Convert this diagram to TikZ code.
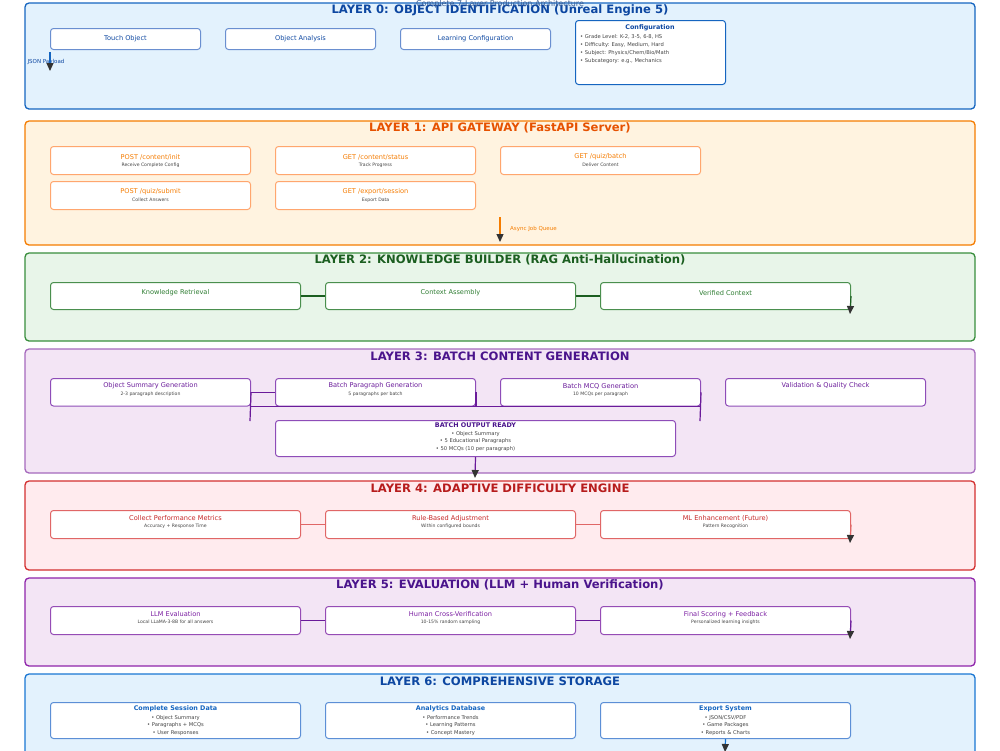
\documentclass[tikz,border=0pt]{standalone}
\usepackage{fontspec}
\setmainfont{DejaVu Sans}
\usetikzlibrary{arrows.meta,calc}
\definecolor{bFill}{HTML}{E3F2FD}\definecolor{bLine}{HTML}{1565C0}\definecolor{bTitle}{HTML}{0D47A1}\definecolor{bBox}{HTML}{6A8FD0}
\definecolor{oFill}{HTML}{FFF3E0}\definecolor{oLine}{HTML}{F57C00}\definecolor{oTitle}{HTML}{E65100}\definecolor{oBox}{HTML}{FFA66E}\definecolor{oText}{HTML}{F57C00}
\definecolor{gFill}{HTML}{E8F5E9}\definecolor{gLine}{HTML}{388E3C}\definecolor{gTitle}{HTML}{1B5E20}\definecolor{gBox}{HTML}{4A8F4E}\definecolor{gText}{HTML}{2E7D32}
\definecolor{pFill}{HTML}{F3E5F5}\definecolor{pLine}{HTML}{8E44AD}\definecolor{pTitle}{HTML}{4A148C}\definecolor{pBox}{HTML}{8E4DB8}\definecolor{pText}{HTML}{6A1B9A}
\definecolor{rFill}{HTML}{FFEBEE}\definecolor{rLine}{HTML}{D32F2F}\definecolor{rTitle}{HTML}{B71C1C}\definecolor{rBox}{HTML}{E06666}\definecolor{rText}{HTML}{C62828}
\definecolor{vLine}{HTML}{8E24AA}\definecolor{vText}{HTML}{7B1FA2}
\definecolor{sLine}{HTML}{1976D2}\definecolor{sBox}{HTML}{5C8FD6}\definecolor{sText}{HTML}{1565C0}
\definecolor{subGray}{HTML}{444444}
\tikzset{
  layer/.style={rounded corners=4pt, line width=1.3pt},
  box/.style={rounded corners=3pt, fill=white, line width=1pt, anchor=north west, inner sep=0pt},
  lbl/.style={font=\fontsize{6.6}{7}\selectfont, inner sep=0pt},
  sub/.style={font=\fontsize{4.6}{5}\selectfont, text=subGray, inner sep=0pt},
  bul/.style={font=\fontsize{5.2}{6}\selectfont, text=subGray, inner sep=0pt},
  hdr/.style={font=\fontsize{6.4}{7}\selectfont\bfseries, inner sep=0pt},
  ttl/.style={font=\fontsize{11.6}{12}\selectfont\bfseries, inner sep=0pt},
  arr/.style={-{Triangle[length=8pt,width=7pt,color=black!80]}, line width=1.2pt},
  link/.style={line width=1.2pt}
}
\begin{document}
\begin{tikzpicture}[x=1pt,y=-1pt]
\useasboundingbox (0,0) rectangle (1000,750);
% layers
\draw[layer, fill=bFill, draw=bLine] (25,3) rectangle (975,109);
\draw[layer, fill=oFill, draw=oLine] (25,121) rectangle (975,245);
\draw[layer, fill=gFill, draw=gLine] (25,253) rectangle (975,341);
\draw[layer, fill=pFill, draw=pLine!80] (25,349) rectangle (975,473);
\draw[layer, fill=rFill, draw=rLine] (25,481) rectangle (975,570);
\draw[layer, fill=pFill, draw=vLine] (25,578) rectangle (975,666);
\draw[layer, fill=bFill, draw=sLine] (25,674) rectangle (975,770);
% titles
\node[ttl, text=bTitle] (t0) at (500,10) {LAYER 0: OBJECT IDENTIFICATION (Unreal Engine 5)};
\node[ttl, text=oTitle] (t1) at (500,128) {LAYER 1: API GATEWAY (FastAPI Server)};
\node[ttl, text=gTitle] (t2) at (500,260) {LAYER 2: KNOWLEDGE BUILDER (RAG Anti-Hallucination)};
\node[ttl, text=pTitle] (t3) at (500,356) {LAYER 3: BATCH CONTENT GENERATION};
\node[ttl, text=rTitle] (t4) at (500,488) {LAYER 4: ADAPTIVE DIFFICULTY ENGINE};
\node[ttl, text=pTitle] (t5) at (500,585) {LAYER 5: EVALUATION (LLM + Human Verification)};
\node[ttl, text=bTitle] (t6) at (500,681) {LAYER 6: COMPREHENSIVE STORAGE};
\node[font=\fontsize{8}{9}\selectfont, text=bTitle!60!gray, inner sep=0pt] (top) at (500,4.5) {Complete 7-Layer Production Architecture};

% ---- Layer 0
\node[box, draw=bBox, minimum width=150pt, minimum height=21pt] (to) at (50,28) {};
\node[box, draw=bBox, minimum width=150pt, minimum height=21pt] (oa) at (225,28) {};
\node[box, draw=bBox, minimum width=150pt, minimum height=21pt] (lc) at (400,28) {};
\node[box, draw=bLine, minimum width=150pt, minimum height=64pt] (cf) at (575,20) {};
\node[lbl, text=bTitle] at (to.center) {Touch Object};
\node[lbl, text=bTitle] at (oa.center) {Object Analysis};
\node[lbl, text=bTitle] at (lc.center) {Learning Configuration};
\node[hdr, text=bTitle] at (650,27.5) {Configuration};
\node[bul, anchor=west] at (580,37) {• Grade Level: K-2, 3-5, 6-8, HS};
\node[bul, anchor=west] at (580,45) {• Difficulty: Easy, Medium, Hard};
\node[bul, anchor=west] at (580,53) {• Subject: Physics/Chem/Bio/Math};
\node[bul, anchor=west] at (580,61) {• Subcategory: e.g., Mechanics};
\coordinate (a0s) at (50,52);
\coordinate (a0e) at (50,71);
\node[font=\fontsize{5.5}{6}\selectfont, text=bTitle, inner sep=0pt] at (46,61.5) {JSON Payload};
\draw[arr, draw=bLine] (a0s) -- (a0e);

% ---- Layer 1
\foreach \n/\x/\y in {pci/50/146, gcs/275/146, gqb/500/146, pqs/50/181, ges/275/181}
  \node[box, draw=oBox, minimum width=200pt, minimum height=28pt] (\n) at (\x,\y) {};
\node[lbl, text=oText] at ($(pci.north)+(0,11)$) {POST /content/init};
\node[sub] at ($(pci.north)+(0,19)$) {Receive Complete Config};
\node[lbl, text=oText] at ($(gcs.north)+(0,11)$) {GET /content/status};
\node[sub] at ($(gcs.north)+(0,19)$) {Track Progress};
\node[lbl, text=oText] at ($(gqb.north)+(0,11)$) {GET /quiz/batch};
\node[sub] at ($(gqb.north)+(0,19)$) {Deliver Content};
\node[lbl, text=oText] at ($(pqs.north)+(0,11)$) {POST /quiz/submit};
\node[sub] at ($(pqs.north)+(0,19)$) {Collect Answers};
\node[lbl, text=oText] at ($(ges.north)+(0,11)$) {GET /export/session};
\node[sub] at ($(ges.north)+(0,19)$) {Export Data};
\coordinate (a1s) at (500,217);
\coordinate (a1e) at (500,242);
\draw[arr, draw=oLine] (a1s) -- (a1e);
\node[font=\fontsize{5.5}{6}\selectfont, text=oText, inner sep=0pt, anchor=west] at (510,229) {Async Job Queue};

% ---- Layer 2
\node[box, draw=gBox, minimum width=250pt, minimum height=27pt] (kr) at (50,282) {};
\node[box, draw=gBox, minimum width=250pt, minimum height=27pt] (ca) at (325,282) {};
\node[box, draw=gBox, minimum width=250pt, minimum height=27pt] (vc) at (600,282) {};
\node[lbl, text=gText] at ($(kr.north)+(0,11)$) {Knowledge Retrieval};
\node[lbl, text=gText] at ($(ca.north)+(0,11)$) {Context Assembly};
\node[lbl, text=gText] at ($(vc.north)+(0,11)$) {Verified Context};
\draw[link, draw=gTitle] (kr.east) -- (ca.west);
\draw[link, draw=gTitle] (ca.east) -- (vc.west);
\coordinate (a2e) at (850,314);
\draw[arr, draw=gTitle] (vc.east) -- (a2e);

% ---- Layer 3
\node[box, draw=pBox, minimum width=200pt, minimum height=27.5pt] (osg) at (50,378) {};
\node[box, draw=pBox, minimum width=200pt, minimum height=27.5pt] (bpg) at (275,378) {};
\node[box, draw=pBox, minimum width=200pt, minimum height=27.5pt] (bmg) at (500,378) {};
\node[box, draw=pBox, minimum width=200pt, minimum height=27.5pt] (vqc) at (725,378) {};
\node[lbl, text=pText] at ($(osg.north)+(0,8)$) {Object Summary Generation};
\node[sub] at ($(osg.north)+(0,16)$) {2-3 paragraph description};
\node[lbl, text=pText] at ($(bpg.north)+(0,8)$) {Batch Paragraph Generation};
\node[sub] at ($(bpg.north)+(0,16)$) {5 paragraphs per batch};
\node[lbl, text=pText] at ($(bmg.north)+(0,8)$) {Batch MCQ Generation};
\node[sub] at ($(bmg.north)+(0,16)$) {10 MCQs per paragraph};
\node[lbl, text=pText] at ($(vqc.north)+(0,8)$) {Validation \& Quality Check};
\coordinate (c3a) at (250,421);
\coordinate (c3b) at (700,421);
\draw[link, draw=pText] (osg.east) -- (bpg.west);
\draw[link, draw=pText] (osg.east) -- (c3a);
\draw[link, draw=pText] (osg.south east) -- (bmg.south east);
\draw[link, draw=pText] (bpg.east) -- (bpg.south east);
\draw[link, draw=pText] (bmg.east) -- (c3b);
\node[box, draw=pBox, minimum width=400pt, minimum height=36pt] (bor) at (275,420) {};
\node[hdr, text=pTitle] at ($(bor.north)+(0,5.5)$) {BATCH OUTPUT READY};
\node[bul] at ($(bor.north)+(0,14)$) {• Object Summary};
\node[bul] at ($(bor.north)+(0,21.5)$) {• 5 Educational Paragraphs};
\node[bul] at ($(bor.north)+(0,29)$) {• 50 MCQs (10 per paragraph)};
\coordinate (a3e) at (475,478);
\draw[arr, draw=pText] (bor.south) -- (a3e);

% ---- Layer 4
\node[box, draw=rBox, minimum width=250pt, minimum height=28pt] (cpm) at (50,510) {};
\node[box, draw=rBox, minimum width=250pt, minimum height=28pt] (rba) at (325,510) {};
\node[box, draw=rBox, minimum width=250pt, minimum height=28pt] (mle) at (600,510) {};
\node[lbl, text=rText] at ($(cpm.north)+(0,8.5)$) {Collect Performance Metrics};
\node[sub] at ($(cpm.north)+(0,16)$) {Accuracy + Response Time};
\node[lbl, text=rText] at ($(rba.north)+(0,8.5)$) {Rule-Based Adjustment};
\node[sub] at ($(rba.north)+(0,16)$) {Within configured bounds};
\node[lbl, text=rText] at ($(mle.north)+(0,8.5)$) {ML Enhancement (Future)};
\node[sub] at ($(mle.north)+(0,16)$) {Pattern Recognition};
\draw[link, line width=1.6pt, draw=rBox] (cpm.east) -- (rba.west);
\draw[link, line width=1.6pt, draw=rBox] (rba.east) -- (mle.west);
\coordinate (a4e) at (850,543);
\draw[arr, draw=rBox] (mle.east) -- (a4e);

% ---- Layer 5
\node[box, draw=vText!80, minimum width=250pt, minimum height=28pt] (lle) at (50,606) {};
\node[box, draw=vText!80, minimum width=250pt, minimum height=28pt] (hcv) at (325,606) {};
\node[box, draw=vText!80, minimum width=250pt, minimum height=28pt] (fsf) at (600,606) {};
\node[lbl, text=vText] at ($(lle.north)+(0,8.5)$) {LLM Evaluation};
\node[sub] at ($(lle.north)+(0,16)$) {Local LLaMA-3-8B for all answers};
\node[lbl, text=vText] at ($(hcv.north)+(0,8.5)$) {Human Cross-Verification};
\node[sub] at ($(hcv.north)+(0,16)$) {10-15\% random sampling};
\node[lbl, text=vText] at ($(fsf.north)+(0,8.5)$) {Final Scoring + Feedback};
\node[sub] at ($(fsf.north)+(0,16)$) {Personalized learning insights};
\draw[link, draw=pText] (lle.east) -- (hcv.west);
\draw[link, draw=pText] (hcv.east) -- (fsf.west);
\coordinate (a5e) at (850,639);
\draw[arr, draw=pText] (fsf.east) -- (a5e);

% ---- Layer 6
\node[box, draw=sBox, minimum width=250pt, minimum height=36pt] (csd) at (50,702) {};
\node[box, draw=sBox, minimum width=250pt, minimum height=36pt] (adb) at (325,702) {};
\node[box, draw=sBox, minimum width=250pt, minimum height=36pt] (exs) at (600,702) {};
\node[hdr, text=sText] at ($(csd.north)+(0,7)$) {Complete Session Data};
\node[bul] at ($(csd.north)+(0,16)$) {• Object Summary};
\node[bul] at ($(csd.north)+(0,23.5)$) {• Paragraphs + MCQs};
\node[bul] at ($(csd.north)+(0,31)$) {• User Responses};
\node[hdr, text=sText] at ($(adb.north)+(0,7)$) {Analytics Database};
\node[bul] at ($(adb.north)+(0,16)$) {• Performance Trends};
\node[bul] at ($(adb.north)+(0,23.5)$) {• Learning Patterns};
\node[bul] at ($(adb.north)+(0,31)$) {• Concept Mastery};
\node[hdr, text=sText] at ($(exs.north)+(0,7)$) {Export System};
\node[bul] at ($(exs.north)+(0,16)$) {• JSON/CSV/PDF};
\node[bul] at ($(exs.north)+(0,23.5)$) {• Game Packages};
\node[bul] at ($(exs.north)+(0,31)$) {• Reports \& Charts};
\coordinate (a6e) at (725,752);
\draw[arr, draw=sLine] (exs.south) -- (a6e);
\end{tikzpicture}
\end{document}
